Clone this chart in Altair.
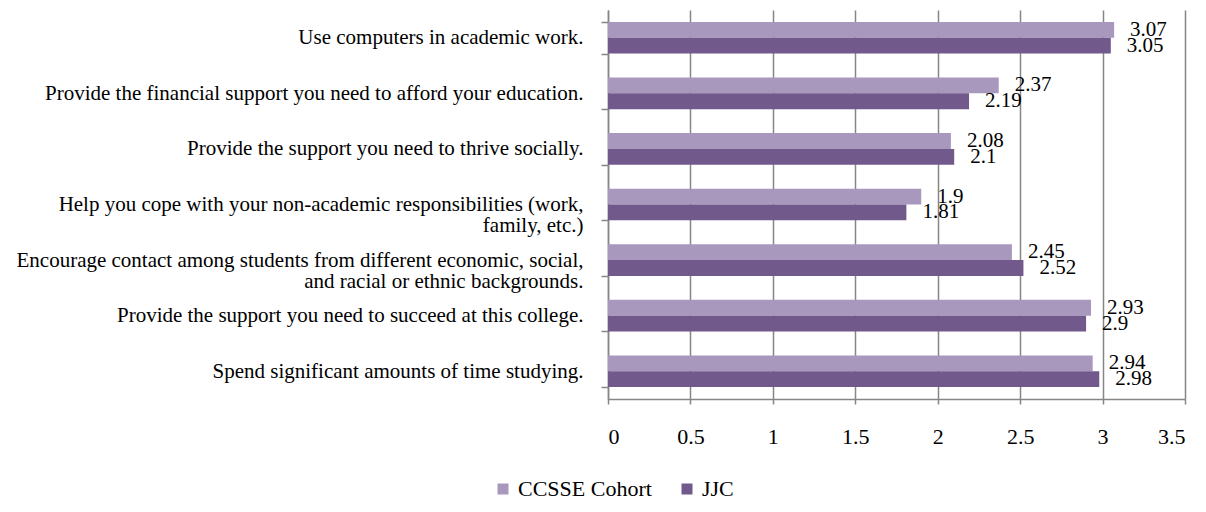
import altair as alt
import pandas as pd

categories = [
    "Use computers in academic work.",
    "Provide the financial support you need to afford your education.",
    "Provide the support you need to thrive socially.",
    "Help you cope with your non-academic responsibilities (work,\nfamily, etc.)",
    "Encourage contact among students from different economic, social,\nand racial or ethnic backgrounds.",
    "Provide the support you need to succeed at this college.",
    "Spend significant amounts of time studying.",
]
series = ["CCSSE Cohort", "JJC"]
ccsse = [3.07, 2.37, 2.08, 1.9, 2.45, 2.93, 2.94]
jjc = [3.05, 2.19, 2.1, 1.81, 2.52, 2.9, 2.98]
colors = ["#A898BE", "#72598C"]
x_ticks = [0, 0.5, 1, 1.5, 2, 2.5, 3, 3.5]

rows = []
for c, a, b in zip(categories, ccsse, jjc):
    rows.append({"cat": c, "series": series[0], "value": a})
    rows.append({"cat": c, "series": series[1], "value": b})
df = pd.DataFrame(rows)

FONT = "Liberation Serif"
GRAY = "#868686"

y = alt.Y(
    "cat:N", sort=categories, title=None,
    scale=alt.Scale(paddingInner=0.43, paddingOuter=0.215),
    axis=alt.Axis(
        labelExpr="split(datum.label, '\\n')",
        labelFont=FONT, labelFontSize=21, labelColor="black",
        labelLimit=800, labelPadding=18, labelLineHeight=21,
        labelAlign="right",
        tickBand="extent", tickSize=7, tickColor=GRAY, tickWidth=1.5,
        domainColor=GRAY, domainWidth=1.5, grid=False,
    ),
)
x = alt.X(
    "value:Q", title=None,
    scale=alt.Scale(domain=[0, 3.5], nice=False, zero=True),
    axis=alt.Axis(
        values=x_ticks, format="~g",
        labelFont=FONT, labelFontSize=22, labelColor="black",
        labelPadding=22, tickSize=5, tickColor=GRAY, tickWidth=1.5,
        domainColor=GRAY, domainWidth=1.5,
        grid=True, gridColor=GRAY, gridWidth=1.5,
    ),
)
yoff = alt.YOffset("series:N", sort=series,
                   scale=alt.Scale(domain=series, paddingInner=0, paddingOuter=0))

base = alt.Chart(df)

bars = base.mark_bar().encode(
    x=x, y=y, yOffset=yoff,
    color=alt.Color(
        "series:N", sort=series,
        scale=alt.Scale(domain=series, range=colors),
        legend=alt.Legend(
            title=None, orient="none", legendX=-116, legendY=468,
            direction="horizontal", symbolType="square", symbolSize=121,
            symbolStrokeWidth=0, labelFont=FONT, labelFontSize=22,
            labelColor="black", columnPadding=24, labelOffset=4, padding=0,
            labelLimit=400,
        ),
    ),
)

labels = base.mark_text(
    align="left", baseline="middle", dx=16, font=FONT, fontSize=21, color="black"
).encode(
    x="value:Q", y=alt.Y("cat:N", sort=categories), yOffset=yoff,
    text=alt.Text("value:Q", format="~g"),
)

chart = alt.layer(bars, labels).properties(
    width=577, height=389,
    autosize=alt.AutoSizeParams(type="none"),
    padding={"left": 608, "top": 10, "right": 21, "bottom": 113},
    background="white",
).configure_view(stroke=None)

chart.save("out.html", embed_options={"renderer": "svg", "actions": False})
